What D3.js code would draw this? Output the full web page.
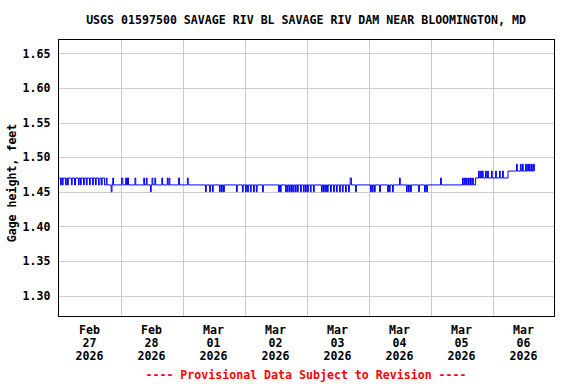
<!DOCTYPE html>
<html>
<head>
<meta charset="utf-8">
<script src="https://cdn.jsdelivr.net/npm/d3@7"></script>
<style>
  body { margin: 0; background: #fff; }
  svg { display: block; }
  text { font-family: "DejaVu Sans Mono", "Liberation Mono", monospace; font-weight: bold; }
</style>
</head>
<body>
<svg id="chart" width="576" height="384"></svg>
<script>
const title = "USGS 01597500 SAVAGE RIV BL SAVAGE RIV DAM NEAR BLOOMINGTON, MD";
const yLabel = "Gage height, feet";
const footer = "---- Provisional Data Subject to Revision ----";
const yTicks = [1.30, 1.35, 1.40, 1.45, 1.50, 1.55, 1.60, 1.65];
const startDate = new Date(2026, 1, 27);
const endDate = new Date(2026, 2, 7);

// gage height change points: [hours since Feb 27 00:00, feet]
const stepsFeb = [
  [0,1.47],[0.8,1.46],[1.1,1.47],[1.5,1.46],[1.8,1.47],[2.7,1.46],[3.2,1.47],[3.5,1.46],
  [3.8,1.47],[5.0,1.46],[5.3,1.47],[6.2,1.46],[6.6,1.47],[7.7,1.46],[8.0,1.47],[8.5,1.46],
  [8.8,1.47],[9.7,1.46],[10.0,1.47],[10.8,1.46],[11.1,1.47],[12.0,1.46],[12.3,1.47],[13.2,1.46],
  [13.5,1.47],[14.3,1.46],[14.6,1.47],[15.5,1.46],[16.0,1.47],[16.6,1.46],[16.9,1.47],[17.8,1.46],
  [18.5,1.47],[18.8,1.46],[20.4,1.45],[20.7,1.46],[21.0,1.47],[21.3,1.46],[24.4,1.47],[24.9,1.46],
  [26.0,1.47],[26.3,1.46],[26.7,1.47],[27.1,1.46],[29.6,1.47],[29.9,1.46],[33.0,1.47],[33.3,1.46],
  [34.0,1.47],[34.3,1.46],[35.6,1.45],[35.9,1.46],[36.2,1.47],[36.5,1.46],[37.3,1.47],[37.6,1.46],
  [40.0,1.47],[40.3,1.46],[42.1,1.47],[42.4,1.46],[42.8,1.47],[43.1,1.46],[46.5,1.47],[46.8,1.46],
  [49.9,1.47],[50.2,1.46]
];
const stepsMar1to3 = [
  [56.9,1.45],[57.2,1.46],[58.5,1.45],[58.8,1.46],[59.6,1.45],[59.9,1.46],[62.3,1.45],[62.6,1.46],
  [63.1,1.45],[63.4,1.46],[63.9,1.45],[64.2,1.46],[68.9,1.45],[69.2,1.46],[71.2,1.45],[71.5,1.46],
  [72.4,1.45],[72.7,1.46],[73.2,1.45],[73.5,1.46],[74.3,1.45],[74.6,1.46],[75.5,1.45],[75.8,1.46],
  [76.6,1.45],[76.9,1.46],[79.0,1.45],[79.3,1.46],[85.2,1.45],[85.5,1.46],[85.9,1.45],[86.2,1.46],
  [87.9,1.45],[88.2,1.46],[88.6,1.45],[88.9,1.46],[89.4,1.45],[89.7,1.46],[90.2,1.45],[90.5,1.46],
  [90.9,1.45],[91.2,1.46],[91.7,1.45],[92.0,1.46],[92.5,1.45],[92.8,1.46],[93.7,1.45],[94.0,1.46],
  [94.8,1.45],[95.1,1.46],[95.6,1.45],[95.9,1.46],[96.4,1.45],[96.7,1.46],[97.5,1.45],[97.8,1.46],
  [98.7,1.45],[99.0,1.46],[101.8,1.45],[102.1,1.46],[102.6,1.45],[102.9,1.46],[103.4,1.45],[103.7,1.46],
  [104.1,1.45],[104.4,1.46],[105.3,1.45],[105.6,1.46],[106.5,1.45],[106.8,1.46],[107.6,1.45],[107.9,1.46],
  [108.8,1.45],[109.1,1.46],[109.9,1.45],[110.2,1.46],[111.1,1.45],[111.4,1.46],[112.3,1.45],[112.6,1.46],
  [112.9,1.47],[113.4,1.46],[115.0,1.45],[115.3,1.46]
];
const stepsMar4to6 = [
  [120.8,1.45],[121.1,1.46],[121.5,1.45],[121.8,1.46],[122.3,1.45],[122.6,1.46],[124.3,1.45],[124.6,1.46],
  [127.4,1.45],[127.7,1.46],[128.1,1.45],[128.4,1.46],[129.3,1.45],[129.6,1.46],[132.0,1.47],[132.3,1.46],
  [134.7,1.45],[135.0,1.46],[135.5,1.45],[135.8,1.46],[136.3,1.45],[136.6,1.46],[139.4,1.45],[139.7,1.46],
  [141.7,1.45],[142.0,1.46],[142.5,1.45],[142.8,1.46],[147.9,1.47],[148.2,1.46],[156.4,1.47],[156.7,1.46],
  [157.2,1.47],[157.5,1.46],[157.9,1.47],[158.2,1.46],[158.7,1.47],[159.0,1.46],[159.5,1.47],[159.8,1.46],
  [160.3,1.47],[160.6,1.46],[161.4,1.47],[162.6,1.48],[162.9,1.47],[163.4,1.48],[163.7,1.47],[164.1,1.48],
  [164.4,1.47],[165.3,1.48],[165.6,1.47],[166.1,1.48],[166.4,1.47],[167.6,1.48],[167.9,1.47],[169.2,1.48],
  [169.5,1.47],[170.7,1.48],[171.0,1.47],[171.9,1.48],[172.2,1.47],[174.0,1.48],[177.3,1.49],[177.6,1.48],
  [178.8,1.49],[179.1,1.48],[179.6,1.49],[179.9,1.48],[180.8,1.49],[181.1,1.48],[181.6,1.49],[181.9,1.48],
  [182.3,1.49],[182.6,1.48],[183.1,1.49],[183.4,1.48],[183.9,1.49],[184.2,1.48]
];

const margin = { left: 58.5, right: 554.5, top: 39.5, bottom: 316.5 };
const svg = d3.select("#chart");

const x = d3.scaleTime().domain([startDate, endDate]).range([margin.left, margin.right]);
const y = d3.scaleLinear().domain([1.27, 1.67]).range([margin.bottom, margin.top]);

const data = stepsFeb.concat(stepsMar1to3, stepsMar4to6).map(d => ({
  date: new Date(startDate.getTime() + d[0] * 3600e3),
  value: d[1]
}));

// grid
const days = d3.timeDay.range(d3.timeDay.offset(startDate, 1), endDate);
svg.append("g").selectAll("line").data(days).enter().append("line")
  .attr("x1", d => Math.round(x(d)) + 0.5).attr("x2", d => Math.round(x(d)) + 0.5)
  .attr("y1", margin.top).attr("y2", margin.bottom)
  .attr("stroke", "#cccccc").attr("stroke-width", 1);
svg.append("g").selectAll("line").data(yTicks).enter().append("line")
  .attr("x1", margin.left).attr("x2", margin.right)
  .attr("y1", d => Math.round(y(d)) + 0.5).attr("y2", d => Math.round(y(d)) + 0.5)
  .attr("stroke", "#cccccc").attr("stroke-width", 1);

// data line
const line = d3.line()
  .x(d => x(d.date))
  .y(d => y(d.value))
  .curve(d3.curveStepAfter);
svg.append("path").datum(data)
  .attr("d", line)
  .attr("fill", "none")
  .attr("stroke", "#0000ff")
  .attr("stroke-width", 1);

// frame
svg.append("rect")
  .attr("x", margin.left).attr("y", margin.top)
  .attr("width", margin.right - margin.left).attr("height", margin.bottom - margin.top)
  .attr("fill", "none").attr("stroke", "#000").attr("stroke-width", 1);

// y axis labels
const yAxis = d3.axisLeft(y).tickValues(yTicks).tickSize(0).tickPadding(8).tickFormat(d3.format(".2f"));
svg.append("g").attr("transform", `translate(${margin.left},0)`).call(yAxis)
  .call(g => g.select(".domain").remove())
  .selectAll("text").attr("font-size", "11.6px").attr("fill", "#000")
  .style("font-family", "'DejaVu Sans Mono', monospace").style("font-weight", "bold");

// x labels at noon of each day
const labelDays = d3.timeDay.range(startDate, endDate);
const fmtMon = d3.timeFormat("%b"), fmtDay = d3.timeFormat("%d"), fmtYear = d3.timeFormat("%Y");
const xl = svg.append("g").selectAll("text").data(labelDays).enter().append("text")
  .attr("text-anchor", "middle").attr("font-size", "11.6px").attr("fill", "#000");
[fmtMon, fmtDay, fmtYear].forEach((f, i) => {
  xl.append("tspan")
    .attr("x", d => x(d3.timeHour.offset(d, 12)))
    .attr("y", 334 + i * 13)
    .text(d => f(d));
});

// titles
svg.append("text").attr("x", 306).attr("y", 24).attr("text-anchor", "middle")
  .attr("font-size", "11.6px").attr("fill", "#000").text(title);
svg.append("text").attr("transform", "translate(16,183) rotate(-90)")
  .attr("text-anchor", "middle").attr("font-size", "11.6px").attr("fill", "#000").text(yLabel);
svg.append("text").attr("x", 306).attr("y", 379).attr("text-anchor", "middle")
  .attr("font-size", "11.6px").attr("fill", "#ff0000").text(footer);
</script>
</body>
</html>
